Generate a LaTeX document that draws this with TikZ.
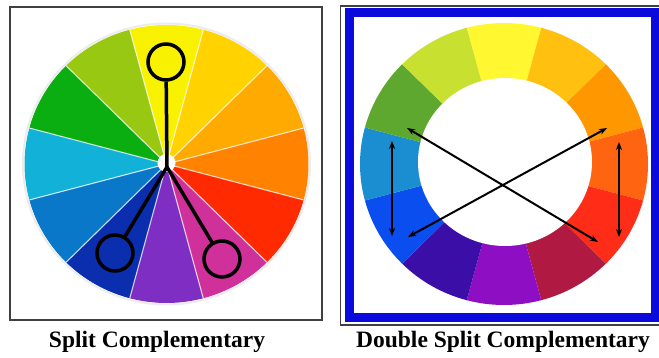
\documentclass[tikz,border=0pt]{standalone}
\usepackage{fontspec}
\setmainfont{Liberation Serif}
\usetikzlibrary{arrows.meta}
\definecolor{LA}{HTML}{F8F200}\definecolor{LB}{HTML}{FFD200}\definecolor{LC}{HTML}{FFAA00}
\definecolor{LD}{HTML}{FF8200}\definecolor{LE}{HTML}{FF2A00}\definecolor{LF}{HTML}{D0309A}
\definecolor{LG}{HTML}{7E2EC2}\definecolor{LH}{HTML}{0A2EAE}\definecolor{LI}{HTML}{0A78C8}
\definecolor{LJ}{HTML}{12B2D8}\definecolor{LK}{HTML}{0AAE10}\definecolor{LL}{HTML}{98C812}
\definecolor{RA}{HTML}{FFF830}\definecolor{RB}{HTML}{FFC010}\definecolor{RC}{HTML}{FF9800}
\definecolor{RD}{HTML}{FF6410}\definecolor{RE}{HTML}{FF2C18}\definecolor{RF}{HTML}{B01A42}
\definecolor{RG}{HTML}{8E0EC4}\definecolor{RH}{HTML}{3C0EA8}\definecolor{RI}{HTML}{0A4EF0}
\definecolor{RJ}{HTML}{1A8ED0}\definecolor{RK}{HTML}{5EA830}\definecolor{RL}{HTML}{C8E030}
\definecolor{frameblue}{HTML}{0A0ADC}
\definecolor{framegray}{HTML}{404040}
\tikzset{
  ring/.style={circle,draw=black,line width=3.5pt,minimum size=36pt,inner sep=0pt},
  stem/.style={draw=black,line width=3.5pt},
  dbl/.style={draw=black,line width=2pt,{Stealth[length=8pt,width=6pt]}-{Stealth[length=8pt,width=6pt]}},
  caption/.style={font=\bfseries\fontsize{23.5}{28}\selectfont,anchor=base,inner sep=0pt},
}
\begin{document}
\begin{tikzpicture}[x=1pt,y=1pt]
\fill[white] (0,0) rectangle (659,358);
\useasboundingbox (0,0) rectangle (659,358);
% ---------- left panel ----------
\draw[framegray,line width=1.5pt] (10,38) rectangle (322,351);
\begin{scope}[shift={(166.5,194)}]
  \foreach \a/\c in {75/LA,45/LB,15/LC,-15/LD,-45/LE,-75/LF,-105/LG,-135/LH,-165/LI,165/LJ,135/LK,105/LL}{
    \fill[\c] (0,0) -- (\a:142pt and 139pt) arc[start angle=\a,end angle=\a+30,x radius=142pt,y radius=139pt] -- cycle;
  }
  \foreach \a in {15,45,...,345}{
    \draw[white,opacity=0.75,line width=1.1pt] (0,0) -- (\a:142pt and 139pt);
  }
  \draw[gray!15,line width=2pt] (0,0) ellipse[x radius=143.5pt,y radius=140.5pt];
  \fill[white] (0,1) circle[radius=9pt];
\end{scope}
\node[ring] (top) at (166,296) {};
\node[ring] (ll) at (115,105) {};
\node[ring] (lr) at (222,99) {};
\coordinate (junc) at (167,191);
\draw[stem] (junc) -- (top);
\draw[stem] (junc) -- (ll);
\draw[stem] (junc) -- (lr);
\node[caption] (cap1) at (157,10) {Split Complementary};
% ---------- right panel ----------
\draw[framegray,line width=1.2pt] (340.5,33) rectangle (662,352);
\draw[frameblue,line width=9pt] (349,40) rectangle (655,345);
\begin{scope}[shift={(504,194)}]
  \foreach \a/\c in {75/RA,45/RB,15/RC,-15/RD,-45/RE,-75/RF,-105/RG,-135/RH,-165/RI,165/RJ,135/RK,105/RL}{
    \fill[\c] (0,0) -- (\a:144pt and 141pt) arc[start angle=\a,end angle=\a+30,x radius=144pt,y radius=141pt] -- cycle;
  }
  \fill[white] (1,2) ellipse[x radius=87pt,y radius=84pt];
\end{scope}
\coordinate (a1) at (407,230);
\coordinate (b1) at (598,116);
\coordinate (a2) at (607,230);
\coordinate (b2) at (408,121);
\coordinate (a3) at (392,217);
\coordinate (b3) at (392,122);
\coordinate (a4) at (619,216);
\coordinate (b4) at (619,121);
\draw[dbl] (a1) -- (b1);
\draw[dbl] (a2) -- (b2);
\draw[dbl] (a3) -- (b3);
\draw[dbl] (a4) -- (b4);
\node[caption] (cap2) at (503,10) {Double Split Complementary};
\end{tikzpicture}
\end{document}
